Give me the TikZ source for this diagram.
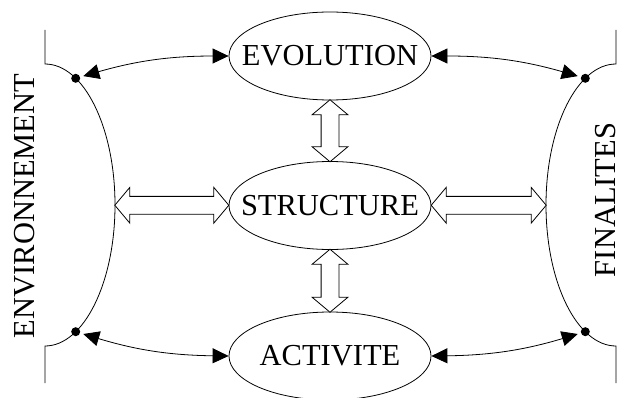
\documentclass[tikz,border=0pt]{standalone}
\usepackage{fontspec}
\setmainfont{Liberation Serif}
\usetikzlibrary{shapes.geometric}
\usetikzlibrary{shapes.arrows}
\usetikzlibrary{arrows.meta}
\usetikzlibrary{calc}

\begin{document}
\begin{tikzpicture}[x=1pt, y=1pt, line width=0.8pt,
  pole/.style={draw, ellipse, minimum width=202pt, minimum height=88pt,
    inner sep=0pt, font=\fontsize{30.5}{36}\selectfont},
  side/.style={rotate=90, inner sep=0pt, font=\fontsize{30.5}{36}\selectfont},
  link/.style={{Triangle[length=16pt,width=15pt]}-{Triangle[length=16pt,width=15pt]},
    shorten <=3pt},
  flux/.style={draw, fill=white, double arrow, double arrow tip angle=100,
    double arrow head extend=9pt, minimum width=35pt, inner sep=8.5pt},
  knot/.style={circle, fill, inner sep=0pt, minimum size=9pt}]
  \useasboundingbox (0,0) rectangle (623,397);

  % the three poles
  \node[pole] (evo) at (330,341) {\makebox[0pt]{EVOLUTION}};
  \node[pole] (str) at (330,191.5) {\makebox[0pt]{STRUCTURE}};
  \node[pole] (act) at (330,41) {\makebox[0pt]{ACTIVITE}};

  % left and right brackets
  \draw (45,367) -- (45,333) arc[start angle=90, end angle=-90, x radius=70, y radius=141] -- (45,14);
  \draw (616,367) -- (616,333) arc[start angle=90, end angle=270, x radius=70, y radius=141] -- (616,14);
  \coordinate (envmid) at (115,192);
  \coordinate (finmid) at (546,192);
  \node[knot] (envtop) at (75.7,318.7) {};
  \node[knot] (envbot) at (75.7,65.3) {};
  \node[knot] (fintop) at (585.3,318.7) {};
  \node[knot] (finbot) at (585.3,65.3) {};

  \node[side] (env) at (25,191) {ENVIRONNEMENT};
  \node[side] (fin) at (605.5,197) {FINALITES};

  % curved links
  \draw[link] (envtop) to[bend left=8] (evo.west);
  \draw[link] (fintop) to[bend right=8] (evo.east);
  \draw[link] (envbot) to[bend right=8] (act.west);
  \draw[link] (finbot) to[bend left=8] (act.east);

  % hollow double arrows
  \node[flux, rotate=90, minimum height=62pt] (up) at ($(evo.south)!0.5!(str.north)$) {};
  \node[flux, rotate=90, minimum height=63pt] (down) at ($(str.south)!0.5!(act.north)$) {};
  \node[flux, minimum height=114pt] (left) at ($(envmid)!0.5!(str.west)$) {};
  \node[flux, minimum height=115pt] (right) at ($(str.east)!0.5!(finmid)$) {};
\end{tikzpicture}
\end{document}
